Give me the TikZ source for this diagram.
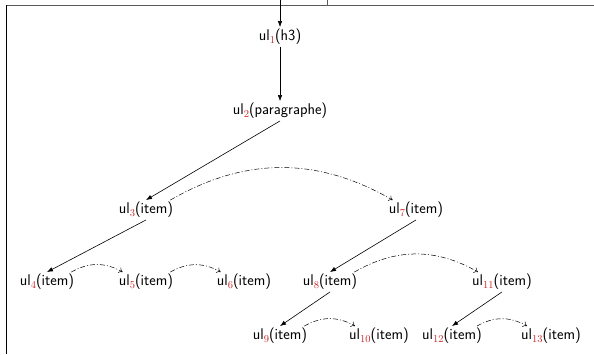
\documentclass[tikz,border=0pt]{standalone}
\usepackage{fontspec}
\usetikzlibrary{arrows.meta}
\definecolor{ured}{RGB}{205,35,35}
\definecolor{framegray}{RGB}{90,90,90}
\newcommand\ulx[1]{ul\raisebox{-0.45ex}{\fontsize{10.5}{10.5}\selectfont\rmfamily\textcolor{ured}{#1}}}
\begin{document}
\begin{tikzpicture}[x=1pt,y=-1pt,
  tn/.style={font=\sffamily\fontsize{15.5}{17}\selectfont, inner sep=3pt, text height=10.5pt, text depth=3pt},
  tree/.style={-{Latex[length=6pt,width=4.5pt]}, line width=0.6pt},
  sib/.style={-{To[length=4pt,width=6pt]}, dash pattern=on 5pt off 2pt on 1pt off 2pt, line width=0.5pt, bend left=30}]
\useasboundingbox (0,0) rectangle (594,354);
% frame
\draw[framegray, line width=1pt] (6,5) -- (594,5);
\draw[black, line width=1pt] (6.5,5) -- (6.5,354);
\draw[framegray, line width=1pt] (327.5,0) -- (327.5,5);
% nodes
\coordinate (top) at (280,0);
\node[tn] (n1) at (280,37) {\ulx{1}(h3)};
\node[tn] (n2) at (280,111) {\ulx{2}(paragraphe)};
\node[tn] (n3) at (146,210) {\ulx{3}(item)};
\node[tn] (n7) at (416,210) {\ulx{7}(item)};
\node[tn] (n4) at (47,282) {\ulx{4}(item)};
\node[tn] (n5) at (146,282) {\ulx{5}(item)};
\node[tn] (n6) at (244,282) {\ulx{6}(item)};
\node[tn] (n8) at (330,282) {\ulx{8}(item)};
\node[tn] (n11) at (502,282) {\ulx{11}(item)};
\node[tn] (n9) at (280,336) {\ulx{9}(item)};
\node[tn] (n10) at (379,336) {\ulx{10}(item)};
\node[tn] (n12) at (452,336) {\ulx{12}(item)};
\node[tn] (n13) at (551,336) {\ulx{13}(item)};
% tree edges
\draw[tree] (top) -- (n1.north);
\draw[tree] (n1.south) -- (n2.north);
\draw[tree] (n2.south) -- (n3.north);
\draw[tree] (n3.south) -- (n4.north);
\draw[tree] (n7.south) -- (n8.north);
\draw[tree] (n8.south) -- (n9.north);
\draw[tree] (n11.south) -- (n12.north);
% sibling edges
\draw[sib] ([xshift=-6pt]n3.north east) to ([xshift=7pt]n7.north west);
\draw[sib] ([xshift=-6pt]n4.north east) to ([xshift=7pt]n5.north west);
\draw[sib] ([xshift=-6pt]n5.north east) to ([xshift=7pt]n6.north west);
\draw[sib] ([xshift=-6pt]n8.north east) to ([xshift=9pt]n11.north west);
\draw[sib] ([xshift=-6pt]n9.north east) to ([xshift=9pt]n10.north west);
\draw[sib] ([xshift=-8pt]n12.north east) to ([xshift=9pt]n13.north west);
\end{tikzpicture}
\end{document}
